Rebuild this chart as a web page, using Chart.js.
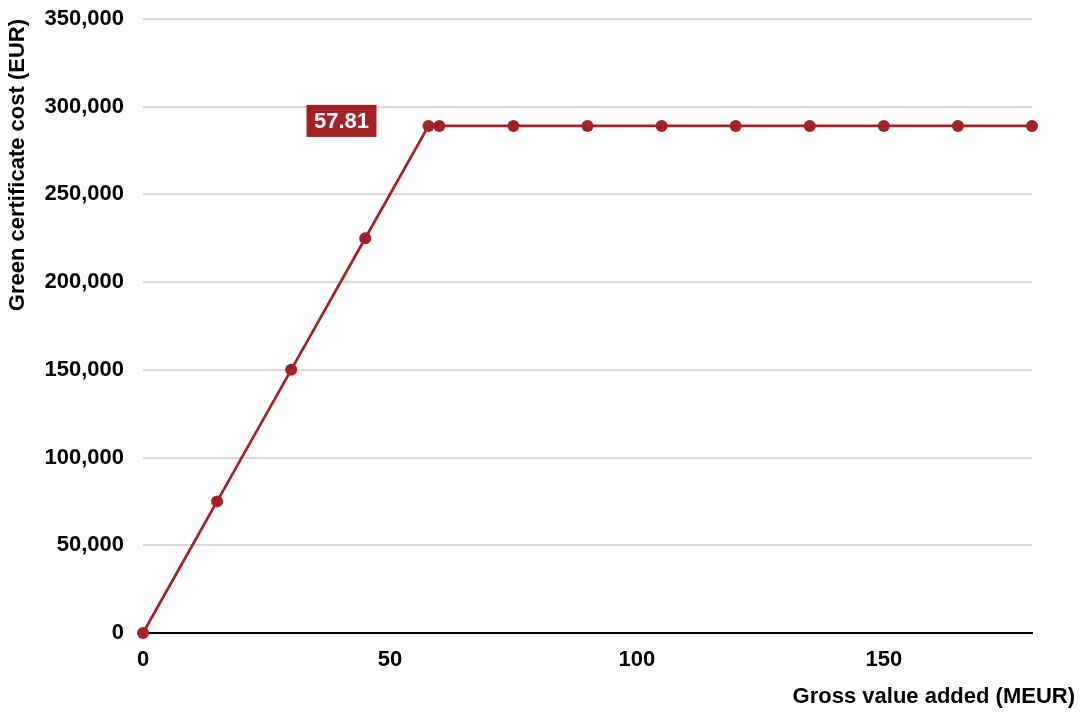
<!DOCTYPE html>
<html>
<head>
<meta charset="utf-8">
<script src="https://cdn.jsdelivr.net/npm/chart.js@4/dist/chart.umd.min.js"></script>
<style>
  html, body { margin: 0; padding: 0; background: #fff; }
  #wrap { width: 1083px; height: 713px; position: relative; }
</style>
</head>
<body>
<div id="wrap"><canvas id="c"></canvas></div>
<script>
// Gross value added (MEUR) and the resulting green certificate cost (EUR)
const gva  = [0, 15, 30, 45, 57.81, 60, 75, 90, 105, 120, 135, 150, 165, 180];
const cost = [0, 75000, 150000, 225000, 289050, 289050, 289050, 289050, 289050, 289050, 289050, 289050, 289050, 289050];
const xTicks = [0, 50, 100, 150];
const yTicks = [0, 50000, 100000, 150000, 200000, 250000, 300000, 350000];
const capLabelIndex = 4;   // kink point where the cost cap is reached
const xTitle = 'Gross value added (MEUR)';
const yTitle = 'Green certificate cost (EUR)';

const RED = '#A52125';
const FONT = 'Liberation Sans, Arial, sans-serif';

// Red callout box with the GVA value of the kink point
const capLabel = {
  id: 'capLabel',
  afterDatasetsDraw(chart) {
    const { ctx, scales } = chart;
    const px = scales.x.getPixelForValue(gva[capLabelIndex]);
    const py = scales.y.getPixelForValue(cost[capLabelIndex]);
    const text = gva[capLabelIndex].toFixed(2);
    ctx.save();
    ctx.font = 'bold 22px ' + FONT;
    const w = ctx.measureText(text).width + 15;
    const h = 32;
    const right = px - 52;
    const cy = py - 5;
    ctx.fillStyle = RED;
    ctx.fillRect(right - w, cy - h / 2, w, h);
    ctx.fillStyle = '#fff';
    ctx.textAlign = 'center';
    ctx.textBaseline = 'middle';
    ctx.fillText(text, right - w / 2, cy + 1);
    ctx.restore();
  }
};

// X-axis title, right-aligned to the canvas edge
const xAxisTitle = {
  id: 'xAxisTitle',
  afterDraw(chart) {
    const { ctx } = chart;
    ctx.save();
    ctx.font = 'bold 22px ' + FONT;
    ctx.fillStyle = '#000';
    ctx.textAlign = 'right';
    ctx.textBaseline = 'middle';
    ctx.fillText(xTitle, chart.width - 8, 697);
    ctx.restore();
  }
};

new Chart(document.getElementById('c'), {
  type: 'line',
  data: {
    datasets: [{
      data: gva.map((x, i) => ({ x: x, y: cost[i] })),
      borderColor: RED,
      backgroundColor: RED,
      borderWidth: 2.75,
      pointRadius: 6,
      pointBorderWidth: 0,
      pointBackgroundColor: RED,
      tension: 0,
      fill: false,
      clip: false
    }]
  },
  options: {
    responsive: true,
    maintainAspectRatio: false,
    animation: false,
    layout: { padding: { top: 19, right: 51, left: 0, bottom: 0 } },
    plugins: {
      legend: { display: false },
      tooltip: { enabled: false }
    },
    scales: {
      x: {
        type: 'linear',
        min: 0,
        max: 180,
        afterBuildTicks(scale) { scale.ticks = xTicks.map(v => ({ value: v })); },
        afterFit(scale) { scale.height = 80; },
        grid: { display: false, drawTicks: false },
        border: { display: true, color: '#000', width: 2 },
        ticks: {
          padding: 14,
          color: '#000',
          font: { family: FONT, size: 22, weight: 'bold' },
          maxRotation: 0
        }
      },
      y: {
        type: 'linear',
        min: 0,
        max: 350000,
        afterBuildTicks(scale) { scale.ticks = yTicks.map(v => ({ value: v })); },
        afterFit(scale) {
          scale.width = 143;
          scale.paddingTop = 0;
          scale.paddingBottom = 0;
        },
        grid: {
          drawTicks: false,
          color: ctx => (ctx.tick && ctx.tick.value === 0) ? '#000' : '#d9d9d9',
          lineWidth: 2
        },
        border: { display: false },
        ticks: {
          padding: 19,
          color: '#000',
          font: { family: FONT, size: 22, weight: 'bold' },
          callback: v => v.toLocaleString('en-US')
        },
        title: {
          display: true,
          text: yTitle,
          align: 'end',
          color: '#000',
          font: { family: FONT, size: 22, weight: 'bold' },
          padding: { top: 5, bottom: 0 }
        }
      }
    }
  },
  plugins: [capLabel, xAxisTitle]
});
</script>
</body>
</html>
